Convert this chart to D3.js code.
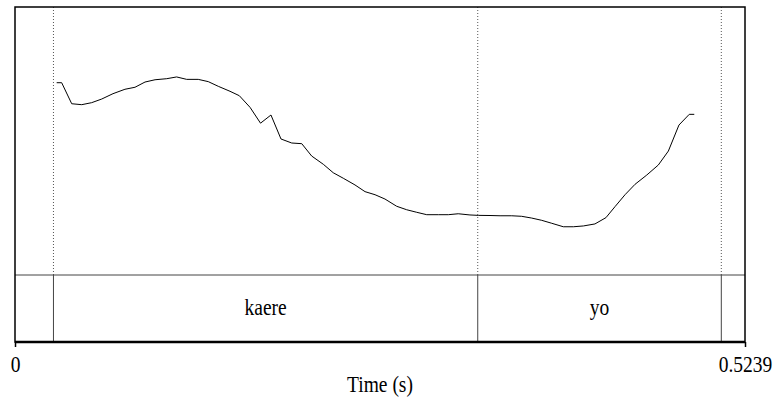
<!DOCTYPE html>
<html lang="en">
<head>
  <meta charset="UTF-8">
  <title>pitch with textgrid</title>
  <script src="https://cdn.jsdelivr.net/npm/d3@7"></script>
  <style type="text/css">
    body { margin:0; background:white; }
    svg { display:block; }
    text { font-family: "Liberation Serif", "DejaVu Serif", serif; font-size:19.5px; fill:black; }
  </style>
</head>
<body>
<svg id="chart" width="777" height="399"></svg>
<script>

  // pitch track (s, Hz)
  const times = [0.0299,0.0335,0.0407,0.0479,0.0550,0.0622,0.0703,0.0789,0.0861,0.0933,
    0.1005,0.1089,0.1160,0.1232,0.1315,0.1387,0.1459,0.1543,0.1610,0.1687,
    0.1762,0.1837,0.1909,0.1986,0.2058,0.2129,0.2213,0.2284,0.2356,0.2440,
    0.2512,0.2584,0.2655,0.2739,0.2811,0.2883,0.2955,0.3038,0.3110,0.3181,
    0.3265,0.3325,0.3409,0.3481,0.3565,0.3636,0.3708,0.3780,0.3852,0.3935,
    0.4007,0.4079,0.4162,0.4241,0.4306,0.4378,0.4450,0.4534,0.4617,0.4689,
    0.4765,0.4839,0.4875];
  const pitch = [243.5,243.5,227.8,227.1,228.6,231.3,235.3,238.6,240.1,244.0,
    245.7,246.5,247.8,246.0,246.0,244.3,240.8,237.1,233.8,225.1,
    213.3,219.4,201.5,198.5,198.0,188.8,182.6,176.3,172.2,167.2,
    162.2,159.9,156.7,151.3,148.7,146.8,145.0,145.0,145.0,145.7,
    144.8,144.5,144.4,144.2,144.2,143.8,142.5,140.8,138.6,136.0,
    136.0,136.6,138.1,142.8,151.0,159.9,167.7,174.6,182.1,192.5,
    211.9,219.9,219.9];

  // textgrid tier
  const boundaries = [0.0276, 0.3321, 0.5069];
  const labels = ['kaere', 'yo'];

  const tMin = 0, tMax = 0.5239;
  const fMin = 100, fMax = 300;

  const padL = 15, padR = 745, padT = 7, tierY = 275, padB = 342;
  const stretch = 1.22; // the reference text is drawn a bit taller than wide

  const svg = d3.select('#chart');
  const x = d3.scaleLinear().domain([tMin, tMax]).range([padL, padR]);
  const y = d3.scaleLinear().domain([fMin, fMax]).range([tierY, padT]);

  function tallText(sel, tx, ty) {
    return sel.attr('transform', (d, i) => {
      const px = typeof tx === 'function' ? tx(d, i) : tx;
      return `translate(${px},${ty}) scale(1,${stretch})`;
    });
  }

  // dotted boundary lines through the pitch area
  svg.append('g').selectAll('line').data(boundaries).enter().append('line')
    .attr('x1', d => x(d)).attr('x2', d => x(d))
    .attr('y1', padT).attr('y2', tierY)
    .attr('stroke', '#555').attr('stroke-width', 1).attr('stroke-dasharray', '1,2');

  // pitch contour
  const pts = times.map((t, i) => [t, pitch[i]]);
  svg.append('path').datum(pts)
    .attr('fill', 'none').attr('stroke', 'black').attr('stroke-width', 1)
    .attr('d', d3.line().x(d => x(d[0])).y(d => y(d[1])));

  // tier
  svg.append('line').attr('x1', padL).attr('x2', padR).attr('y1', tierY).attr('y2', tierY)
    .attr('stroke', '#444').attr('stroke-width', 1);
  svg.append('g').selectAll('line').data(boundaries).enter().append('line')
    .attr('x1', d => x(d)).attr('x2', d => x(d))
    .attr('y1', tierY).attr('y2', padB)
    .attr('stroke', '#444').attr('stroke-width', 1);
  const tierText = svg.append('g').selectAll('text').data(labels).enter().append('text')
    .attr('text-anchor', 'middle')
    .text(d => d);
  tallText(tierText, (d, i) => (x(boundaries[i]) + x(boundaries[i + 1])) / 2, 315);

  // frame
  svg.append('rect').attr('x', padL).attr('y', padT)
    .attr('width', padR - padL).attr('height', padB - padT)
    .attr('fill', 'none').attr('stroke', 'black').attr('stroke-width', 1.5);
  svg.append('line').attr('x1', padL).attr('x2', padR).attr('y1', padB).attr('y2', padB)
    .attr('stroke', 'black').attr('stroke-width', 2.5);

  // time axis
  const axis = d3.axisBottom(x).tickValues([tMin, tMax])
    .tickFormat(d => d === 0 ? '0' : d3.format('.4f')(d))
    .tickSize(5);
  const ax = svg.append('g').attr('transform', `translate(0,${padB})`).call(axis);
  ax.select('.domain').remove();
  ax.attr('font-family', null).attr('font-size', null);
  ax.selectAll('.tick line').attr('stroke', 'black').attr('stroke-width', 1.5);
  const tickText = ax.selectAll('.tick text').attr('y', null).attr('dy', null);
  tallText(tickText, 0, 29.5);

  tallText(svg.append('text').attr('text-anchor', 'middle').text('Time (s)'), (padL + padR) / 2, 391.5);

</script>
</body>
</html>
